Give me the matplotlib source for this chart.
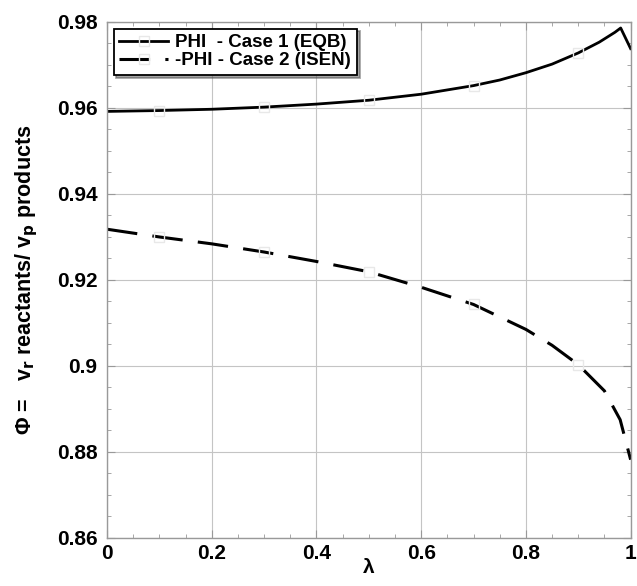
import matplotlib
matplotlib.use("Agg")
import matplotlib.pyplot as plt
import numpy as np
from matplotlib.ticker import MultipleLocator

lam_eqb = [0.0, 0.1, 0.2, 0.3, 0.4, 0.5, 0.6, 0.7, 0.75, 0.8, 0.85, 0.9, 0.94, 0.97, 0.981, 1.0]
phi_eqb = [0.9592, 0.9594, 0.9597, 0.9602, 0.9609, 0.9618, 0.9632, 0.9652, 0.9665, 0.9682, 0.9702, 0.9728, 0.9753, 0.9776, 0.9786, 0.9738]

lam_isen = [0.0, 0.1, 0.2, 0.3, 0.4, 0.5, 0.6, 0.7, 0.8, 0.85, 0.9, 0.95, 0.98, 1.0]
phi_isen = [0.9318, 0.9300, 0.9284, 0.9265, 0.9243, 0.9219, 0.9183, 0.9143, 0.9085, 0.9048, 0.9003, 0.8942, 0.8875, 0.8782]

marker_x = [0.1, 0.3, 0.5, 0.7, 0.9]

plt.rcParams['font.family'] = ['Liberation Sans', 'DejaVu Sans']
plt.rcParams['font.weight'] = 'bold'

fig = plt.figure(figsize=(6.37, 5.86), dpi=100)
ax = fig.add_axes([0.168, 0.082, 0.822, 0.8805])

idx_e = [lam_eqb.index(v) for v in marker_x]
idx_i = [lam_isen.index(v) for v in marker_x]

ax.plot(lam_eqb, phi_eqb, color='black', lw=2.0, marker='s', markevery=idx_e,
        markersize=7, markerfacecolor='none', markeredgecolor='#e8e8e8',
        label='PHI  - Case 1 (EQB)')
ax.plot(lam_isen, phi_isen, color='black', lw=2.2, dashes=(10, 5), marker='s',
        markevery=idx_i, markersize=7, markerfacecolor='none',
        markeredgecolor='#e8e8e8', label='-PHI - Case 2 (ISEN)')

ax.set_xlim(0, 1)
ax.set_ylim(0.86, 0.98)
ax.set_xticks([0, 0.2, 0.4, 0.6, 0.8, 1])
ax.set_xticklabels(['0', '0.2', '0.4', '0.6', '0.8', '1'])
ax.set_yticks([0.86, 0.88, 0.9, 0.92, 0.94, 0.96, 0.98])
ax.set_yticklabels(['0.86', '0.88', '0.9', '0.92', '0.94', '0.96', '0.98'])
ax.xaxis.set_minor_locator(MultipleLocator(0.05))
ax.yaxis.set_minor_locator(MultipleLocator(0.005))
ax.tick_params(which='both', direction='in', top=True, right=True, labelsize=15,
               color='#999999')
ax.tick_params(which='major', length=6)
ax.tick_params(axis='y', which='major', pad=7)
ax.tick_params(axis='x', which='major', pad=4)
ax.tick_params(which='minor', length=3)
ax.grid(True, which='major', color='#c4c4c4', lw=0.8)
for s in ax.spines.values():
    s.set_color('#999999')
    s.set_linewidth(1.0)

ax.set_xlabel('λ', fontsize=15, fontweight='bold', labelpad=-3)
ax.set_ylabel(r'Φ =   v$_\mathbf{r}$ reactants/ v$_\mathbf{p}$ products', fontsize=15.5,
              fontweight='bold', labelpad=12)

leg = ax.legend(loc='upper left', fontsize=13.5, frameon=True, fancybox=False,
                shadow=True, borderaxespad=0.35, handlelength=2.6, handletextpad=0.4,
                borderpad=0.3, labelspacing=0.05)
leg.get_frame().set_edgecolor('black')
leg.get_frame().set_linewidth(1.3)

fig.savefig('out.png', dpi=100)
